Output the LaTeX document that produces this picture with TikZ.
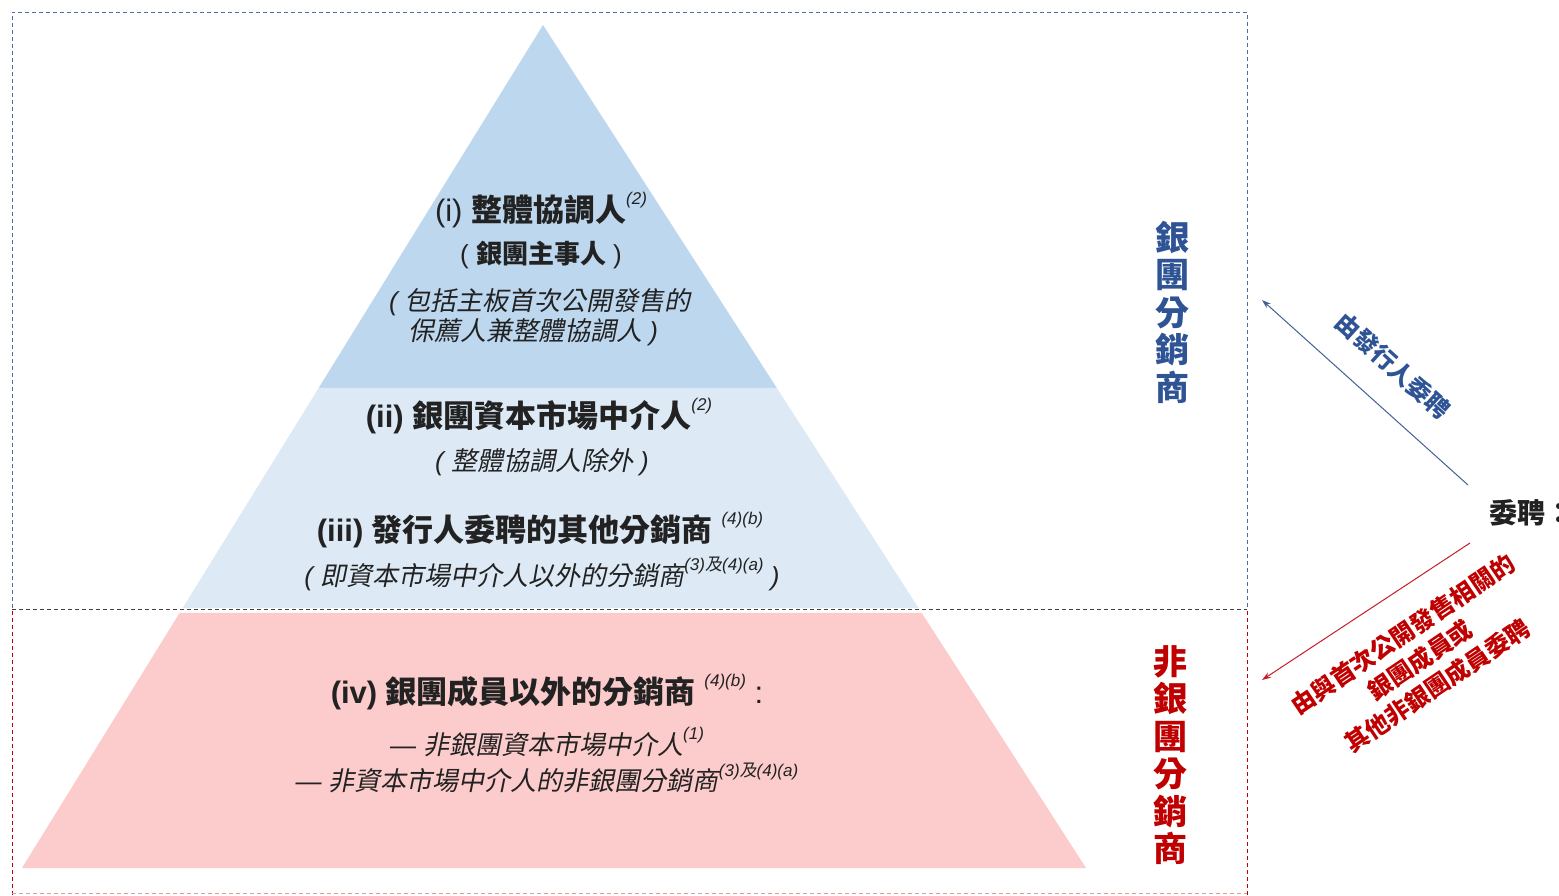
\documentclass[tikz,border=0pt]{standalone}
\usepackage{fontspec}
\setmainfont{Liberation Sans}
\newfontfamily\cjk{Noto Sans CJK TC}
\newfontfamily\cjkit{Noto Sans CJK TC}[FakeSlant=0.2]
\usetikzlibrary{calc,arrows.meta}
\definecolor{bandA}{RGB}{189,215,238}
\definecolor{bandB}{RGB}{221,234,246}
\definecolor{bandC}{RGB}{252,203,203}
\definecolor{synblue}{RGB}{47,84,150}
\definecolor{synred}{RGB}{192,0,0}
\definecolor{arrblue}{RGB}{68,97,150}
\definecolor{arrred}{RGB}{200,30,40}
\definecolor{txt}{RGB}{34,34,34}
\definecolor{frameblue}{RGB}{70,110,170}
\newcommand{\fs}[1]{\fontsize{#1}{#1}\selectfont}
\newcommand{\sps}[1]{\raisebox{0.55em}{\fs{17}\itshape #1}}
\tikzset{
  lbl/.style={text=txt, inner sep=0pt, anchor=center},
  vlbl/.style={inner sep=0pt, align=center, font=\cjk\bfseries\fontsize{34}{37.5}\selectfont},
  frame/.style={line width=0.8pt, dash pattern=on 4pt off 3pt},
  arr/.style={line width=1pt, -{Stealth[length=9pt,width=6pt]}}
}
\begin{document}
\begin{tikzpicture}[x=1pt,y=-1pt]
\useasboundingbox (0,0) rectangle (1559,896);
\fill[white] (0,0) rectangle (1559,896);
% pyramid
\coordinate (A) at (543,25);
\coordinate (BL) at (22,868);
\coordinate (BR) at (1086,868);
\fill[bandA] (A) -- ($(A)!0.4306!(BL)$) -- ($(A)!0.4306!(BR)$) -- cycle;
\fill[bandB] ($(A)!0.4306!(BL)$) -- ($(A)!0.6916!(BL)$) -- ($(A)!0.6916!(BR)$) -- ($(A)!0.4306!(BR)$) -- cycle;
\fill[bandC] ($(A)!0.6975!(BL)$) -- (BL) -- (BR) -- ($(A)!0.6975!(BR)$) -- cycle;
% frames
\draw[frame, frameblue] (12,608) -- (12,12) -- (1247,12) -- (1247,608);
\draw[frame, synred] (12,611) -- (12,896);
\draw[frame, synred] (1247,611) -- (1247,896);
\draw[frame, synred!40] (12,893) -- (1247,893);
\draw[frame, black!75] (12,609) -- (1247,609);
% texts in pyramid
\node[lbl] (t1) at (541,210) {\fs{31}(i) {\cjk\bfseries 整體協調人}\sps{(2)}};
\node[lbl] (t2) at (541,255) {\fs{26}( {\cjk\bfseries 銀團主事人} )};
\node[lbl] (t3) at (540,302) {\fs{26}\itshape ( {\cjkit 包括主板首次公開發售的}};
\node[lbl] (t4) at (533,332) {\fs{26}\itshape {\cjkit 保薦人兼整體協調人} )};
\node[lbl] (t5) at (539,416) {\fs{31}\bfseries (ii) {\cjk\bfseries 銀團資本市場中介人}\sps{\mdseries(2)}};
\node[lbl] (t6) at (542,462) {\fs{26}\itshape ( {\cjkit 整體協調人除外} )};
\node[lbl] (t7) at (540,530) {\fs{31}\bfseries (iii) {\cjk\bfseries 發行人委聘的其他分銷商} \sps{\mdseries(4)(b)}};
\node[lbl] (t8) at (542,574) {\fs{26}\itshape ( {\cjkit 即資本市場中介人以外的分銷商}\sps{(3){\cjkit 及}(4)(a)} )};
\node[lbl] (t9) at (547,692) {\fs{31}\bfseries (iv) {\cjk\bfseries 銀團成員以外的分銷商} \sps{\mdseries(4)(b)}\mdseries\ :};
\node[lbl] (t10) at (547,742) {\fs{26}\itshape — {\cjkit 非銀團資本市場中介人}\sps{(1)}};
\node[lbl] (t11) at (547,778) {\fs{26}\itshape — {\cjkit 非資本市場中介人的非銀團分銷商}\sps{(3){\cjkit 及}(4)(a)}};
% vertical labels
\node[vlbl, text=synblue] (v1) at (1172,312) {銀\\團\\分\\銷\\商};
\node[vlbl, text=synred] (v2) at (1170,755) {非\\銀\\團\\分\\銷\\商};
% right side
\node[anchor=west, inner sep=0pt, text=txt, font=\cjk\bfseries\fs{28}] (wp) at (1489,513) {委聘：};
\coordinate (b0) at (1468,485);
\coordinate (b1) at (1262,300);
\coordinate (r0) at (1470,543);
\coordinate (r1) at (1262,680);
\draw[arr, arrblue] (b0) -- (b1);
\draw[arr, arrred] (r0) -- (r1);
\node[inner sep=0pt, rotate=-42, text=synblue, font=\cjk\bfseries\fs{24}] (bt) at (1393,366) {由發行人委聘};
\node[inner sep=0pt, rotate=34, text=synred, align=center, font=\cjk\bfseries\fontsize{24}{31}\selectfont] (rt) at (1420,660) {由與首次公開發售相關的\\銀團成員或\\其他非銀團成員委聘};
\end{tikzpicture}
\end{document}
